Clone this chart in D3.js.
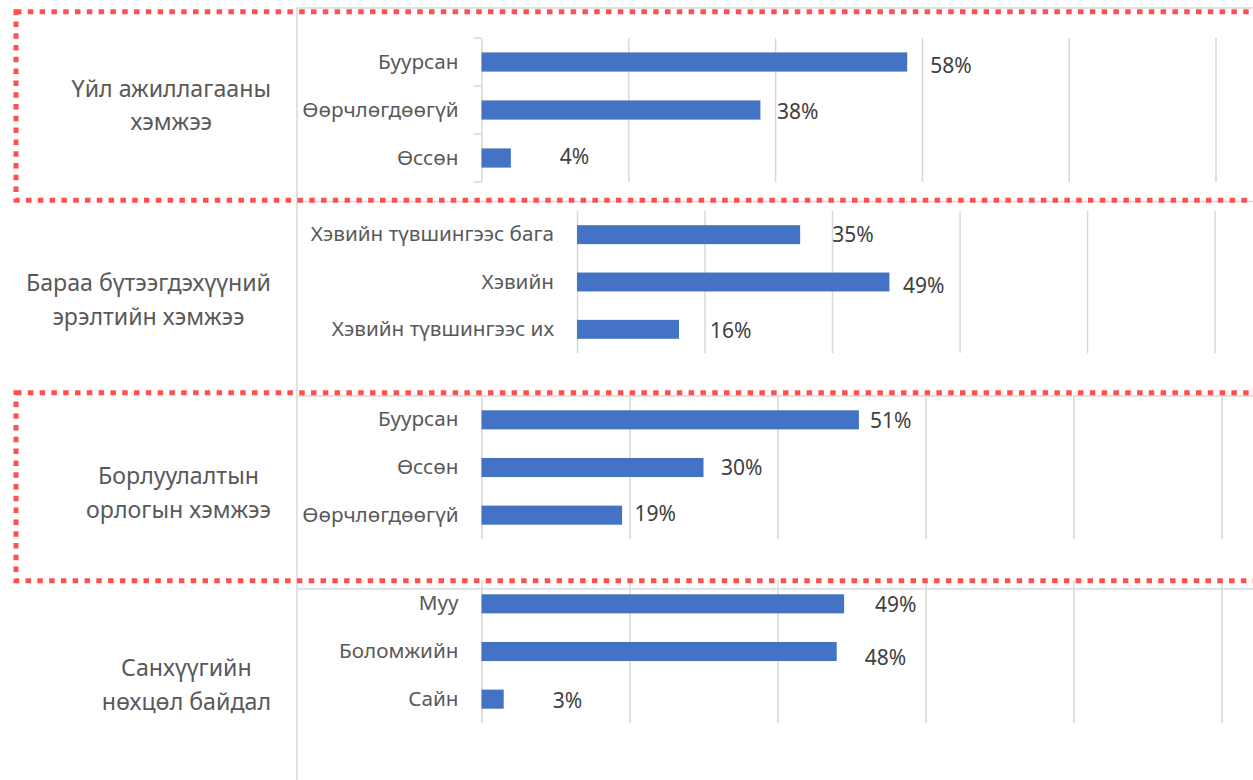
<!DOCTYPE html>
<html>
<head>
<meta charset="utf-8">
<script src="https://cdn.jsdelivr.net/npm/d3@7"></script>
<style>
  body { margin: 0; background: #fff; }
  svg { display: block; font-family: "Noto Sans", "Open Sans", sans-serif; }
</style>
</head>
<body>
<div id="chart"></div>
<script>
// group titles (two lines each)
const groupNames = [
    ["Үйл ажиллагааны", "хэмжээ"],
    ["Бараа бүтээгдэхүүний", "эрэлтийн хэмжээ"],
    ["Борлуулалтын", "орлогын хэмжээ"],
    ["Санхүүгийн", "нөхцөл байдал"]
];

const activityCats = ["Буурсан", "Өөрчлөгдөөгүй", "Өссөн"];
const activityVals = [0.58, 0.38, 0.04];

const demandCats = ["Хэвийн түвшингээс бага", "Хэвийн", "Хэвийн түвшингээс их"];
const demandVals = [0.35, 0.49, 0.16];

const salesCats = ["Буурсан", "Өссөн", "Өөрчлөгдөөгүй"];
const salesVals = [0.51, 0.30, 0.19];

const financeCats = ["Муу", "Боломжийн", "Сайн"];
const financeVals = [0.49, 0.48, 0.03];

const gridTicks = [0, 0.2, 0.4, 0.6, 0.8, 1];

const panelCats = [activityCats, demandCats, salesCats, financeCats];
const panelVals = [activityVals, demandVals, salesVals, financeVals];

// layout of each small chart (pixels)
const layout = [
    {top: 38,  bottom: 182, x0: 481.5, x1: 1215.5, bracket: true,  titleBase: 96.5},
    {top: 211, bottom: 353, x0: 577,   x1: 1214.6, bracket: false, titleBase: 291},
    {top: 396, bottom: 539, x0: 481.5, x1: 1221.5, bracket: false, titleBase: 484},
    {top: 580, bottom: 723, x0: 481.5, x1: 1221.5, bracket: false, titleBase: 676}
];
// hand-moved data labels: [dx from bar end, dy from bar centre]
const labelNudge = [
    [[23, 3.5], [16.5, 1.5], [49, -1]],
    [[32, 0], [13.5, 3.7], [31, 1.5]],
    [[11, 1], [17.5, 0], [12.5, -2]],
    [[31, 1], [28, 6], [49, 1]]
];

const W = 1253, H = 780;
const gray = "#d9d9d9";
const fontFamily = '"Noto Sans", "Open Sans", sans-serif';

const svg = d3.select("#chart").append("svg")
    .attr("width", W)
    .attr("height", H);

// frame lines of the stacked charts
svg.append("line")
    .attr("x1", 297).attr("x2", 297).attr("y1", 8).attr("y2", H)
    .attr("stroke", gray).attr("stroke-width", 1.5);
[8, 201.5, 396, 589].forEach(yy => {
    svg.append("line")
        .attr("x1", 297).attr("x2", W).attr("y1", yy).attr("y2", yy)
        .attr("stroke", gray).attr("stroke-width", 1.5);
});

layout.forEach((L, i) => {
    const cats = panelCats[i];
    const vals = panelVals[i];
    const g = svg.append("g");

    const x = d3.scaleLinear().domain([0, 1]).range([L.x0, L.x1]);
    const y = d3.scaleBand()
        .domain(cats)
        .range([L.top, L.bottom])
        .paddingInner(0.6)
        .paddingOuter(0.3);

    // gridlines
    const grid = g.append("g")
        .attr("transform", `translate(0,${L.bottom})`)
        .call(d3.axisBottom(x).tickValues(gridTicks).tickSize(-(L.bottom - L.top)).tickFormat(""));
    grid.select(".domain").remove();
    grid.selectAll("line").attr("stroke", gray).attr("stroke-width", 1.5);

    // bracket ticks between categories
    if (L.bracket) {
        const edges = d3.range(cats.length + 1).map(k => L.top + k * y.step());
        g.selectAll(".brk")
            .data(edges)
            .enter()
            .append("line")
            .attr("x1", x(0) - 8).attr("x2", x(0))
            .attr("y1", d => d).attr("y2", d => d)
            .attr("stroke", gray).attr("stroke-width", 1.5);
    }

    // category labels
    const yAxis = g.append("g")
        .attr("transform", `translate(${x(0)},0)`)
        .call(d3.axisLeft(y).tickSize(0).tickPadding(23));
    yAxis.select(".domain").remove();
    yAxis.attr("font-family", fontFamily).attr("font-size", 20.7);
    yAxis.selectAll("text").attr("fill", "#595959");

    // bars
    g.selectAll("rect")
        .data(cats)
        .enter()
        .append("rect")
        .attr("x", x(0))
        .attr("y", d => y(d))
        .attr("width", (d, k) => x(vals[k]) - x(0))
        .attr("height", y.bandwidth())
        .attr("fill", "#4472C4");

    // value labels
    g.selectAll(".val")
        .data(cats)
        .enter()
        .append("text")
        .attr("class", "val")
        .attr("x", (d, k) => x(vals[k]) + labelNudge[i][k][0])
        .attr("y", (d, k) => y(d) + y.bandwidth() / 2 + labelNudge[i][k][1])
        .attr("dy", "0.35em")
        .attr("font-size", 21)
        .attr("fill", "#404040")
        .text((d, k) => Math.round(vals[k] * 100) + "%");

    // group title, centred lines, block right-aligned
    const title = g.append("g");
    const lines = title.selectAll("text")
        .data(groupNames[i])
        .enter()
        .append("text")
        .attr("y", (d, k) => L.titleBase + k * 33.5)
        .attr("font-size", 23.2)
        .attr("fill", "#595959")
        .attr("text-anchor", "middle")
        .text(d => d);
    let maxW = 0;
    lines.each(function() { maxW = Math.max(maxW, this.getComputedTextLength()); });
    lines.attr("x", 271 - maxW / 2);
});

// red dotted highlight boxes
[[11.7, 200.2], [392.7, 580.7]].forEach(([t, b]) => {
    svg.append("rect")
        .attr("x", 16).attr("y", t)
        .attr("width", 1300).attr("height", b - t)
        .attr("fill", "none")
        .attr("stroke", "#ff5050")
        .attr("stroke-width", 5)
        .attr("stroke-dasharray", "5.5,6.3");
});
</script>
</body>
</html>
